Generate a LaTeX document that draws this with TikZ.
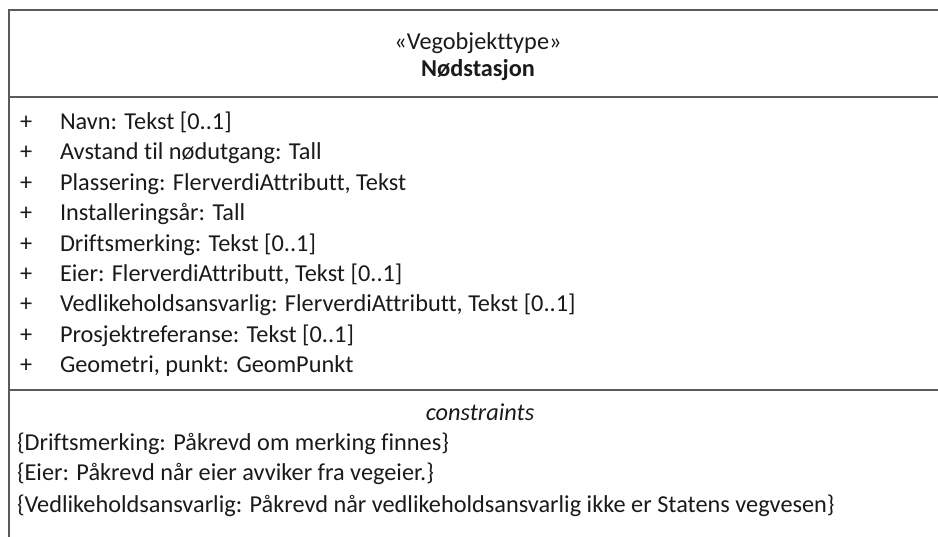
\documentclass[tikz,border=0pt]{standalone}
\usepackage{fontspec}
\setmainfont{Carlito}[Ligatures={NoCommon}]
\usepackage{tikz}

\definecolor{umlline}{HTML}{5A5A5A}
\definecolor{umltext}{HTML}{1A1A1A}

\begin{document}
\begin{tikzpicture}[x=1pt, y=-1pt,
  every node/.style={inner sep=0pt, outer sep=0pt, text=umltext, font=\fontsize{24.3}{30}\selectfont},
  lft/.style={anchor=base west},
  mid/.style={anchor=base},
  rule/.style={draw=umlline, line width=2pt}]
\useasboundingbox (0,0) rectangle (938,537);

% class frame, open to the right and the bottom
\draw[rule] (9,537) -- (9,10) -- (945,10);
\draw[rule] (9,97) -- (945,97);
\draw[rule] (9,390) -- (945,390);

% header
\node[mid] (stereo) at (478,50) {«Vegobjekttype»};
\node[mid, font=\fontsize{24.3}{30}\selectfont\bfseries] (klasse) at (478,77) {Nødstasjon};

% attributes
\node[lft] (plus1) at (20,129.5) {+};
\node[lft] (attr1) at (60,129.5) {Navn: Tekst [0..1]};
\node[lft] (plus2) at (20,159.9) {+};
\node[lft] (attr2) at (60,159.9) {Avstand til nødutgang: Tall};
\node[lft] (plus3) at (20,190.3) {+};
\node[lft] (attr3) at (60,190.3) {Plassering: FlerverdiAttributt, Tekst};
\node[lft] (plus4) at (20,220.7) {+};
\node[lft] (attr4) at (60,220.7) {Installeringsår: Tall};
\node[lft] (plus5) at (20,251.1) {+};
\node[lft] (attr5) at (60,251.1) {Driftsmerking: Tekst [0..1]};
\node[lft] (plus6) at (20,281.5) {+};
\node[lft] (attr6) at (60,281.5) {Eier: FlerverdiAttributt, Tekst [0..1]};
\node[lft] (plus7) at (20,311.9) {+};
\node[lft] (attr7) at (60,311.9) {Vedlikeholdsansvarlig: FlerverdiAttributt, Tekst [0..1]};
\node[lft] (plus8) at (20,342.3) {+};
\node[lft] (attr8) at (60,342.3) {Prosjektreferanse: Tekst [0..1]};
\node[lft] (plus9) at (20,372.7) {+};
\node[lft] (attr9) at (60,372.7) {Geometri, punkt: GeomPunkt};

% constraints
\node[mid, font=\fontsize{24.3}{30}\selectfont\itshape] (cons) at (480,421) {constraints};
\node[lft] (cons1) at (17,450.5) {\{Driftsmerking: Påkrevd om merking finnes\}};
\node[lft] (cons2) at (17,481) {\{Eier: Påkrevd når eier avviker fra vegeier.\}};
\node[lft] (cons3) at (17,512) {\{Vedlikeholdsansvarlig: Påkrevd når vedlikeholdsansvarlig ikke er Statens vegvesen\}};
\end{tikzpicture}
\end{document}
